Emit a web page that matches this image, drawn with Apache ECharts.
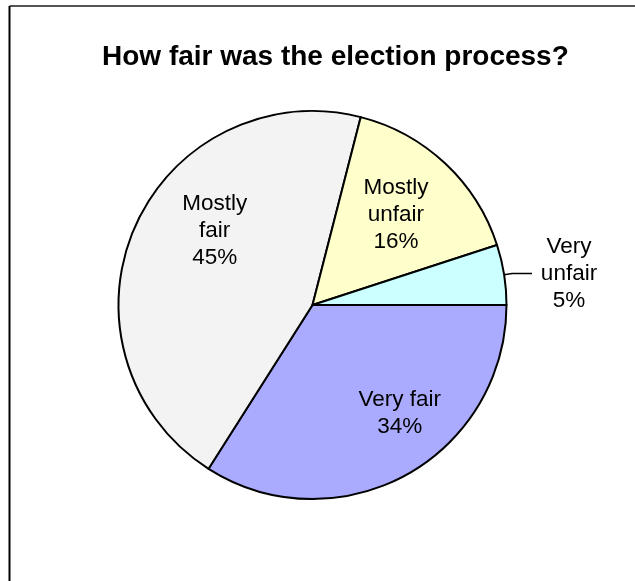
<!DOCTYPE html>
<html>
<head>
<meta charset="utf-8">
<script src="https://cdn.jsdelivr.net/npm/echarts@6/dist/echarts.min.js"></script>
<style>
  html, body { margin: 0; padding: 0; background: #fff; }
  #chart { width: 635px; height: 581px; }
</style>
</head>
<body>
<div id="chart"></div>
<script>
const titleText = 'How fair was the election process?';
const categories = ['Very fair', 'Mostly fair', 'Mostly unfair', 'Very unfair'];
const labelTexts = ['Very fair', 'Mostly\nfair', 'Mostly\nunfair', 'Very\nunfair'];
const values = [34, 45, 16, 5];
const colors = ['#aaaaff', '#f3f3f3', '#ffffcc', '#ccffff'];
const labelOffsets = [[39, 21], [-6, -34], [15, -17], [0, 0]];

const FONT = '"Liberation Sans", Arial, sans-serif';

const data = categories.map((c, i) => {
  const item = {
    name: c,
    value: values[i],
    itemStyle: { color: colors[i] }
  };
  if (i === 3) {
    item.label = {
      position: 'outside',
      formatter: () => labelTexts[i].split('\n').concat([values[i] + '%']).map(s => '{t|' + s + '}').join('\n'),
      rich: { t: { width: 58, align: 'center', fontSize: 22.5, lineHeight: 27, fontFamily: FONT, color: '#000' } },
      distanceToLabelLine: 8
    };
    item.labelLine = { show: true, length: 8, length2: 20, lineStyle: { color: '#000', width: 1.5 } };
  } else {
    item.label = {
      position: 'inside',
      offset: labelOffsets[i],
      formatter: () => labelTexts[i] + '\n' + values[i] + '%'
    };
  }
  return item;
});

const chart = echarts.init(document.getElementById('chart'));
chart.setOption({
  animation: false,
  backgroundColor: '#fff',
  title: {
    text: titleText,
    left: 97,
    top: 38,
    textStyle: { fontFamily: FONT, fontSize: 28, fontWeight: 'bold', color: '#000' }
  },
  graphic: [
    { type: 'line', shape: { x1: 9.5, y1: 6, x2: 640, y2: 6 }, style: { stroke: '#555', lineWidth: 2 } },
    { type: 'line', shape: { x1: 9.5, y1: 6, x2: 9.5, y2: 590 }, style: { stroke: '#000', lineWidth: 2 } }
  ],
  series: [{
    type: 'pie',
    center: [312.5, 305],
    radius: 194,
    startAngle: 0,
    clockwise: true,
    avoidLabelOverlap: false,
    itemStyle: { borderColor: '#000', borderWidth: 2 },
    label: {
      color: '#000',
      fontFamily: FONT,
      fontSize: 22.5,
      lineHeight: 27,
      align: 'center'
    },
    emphasis: { disabled: true },
    data: data
  }]
});
</script>
</body>
</html>
